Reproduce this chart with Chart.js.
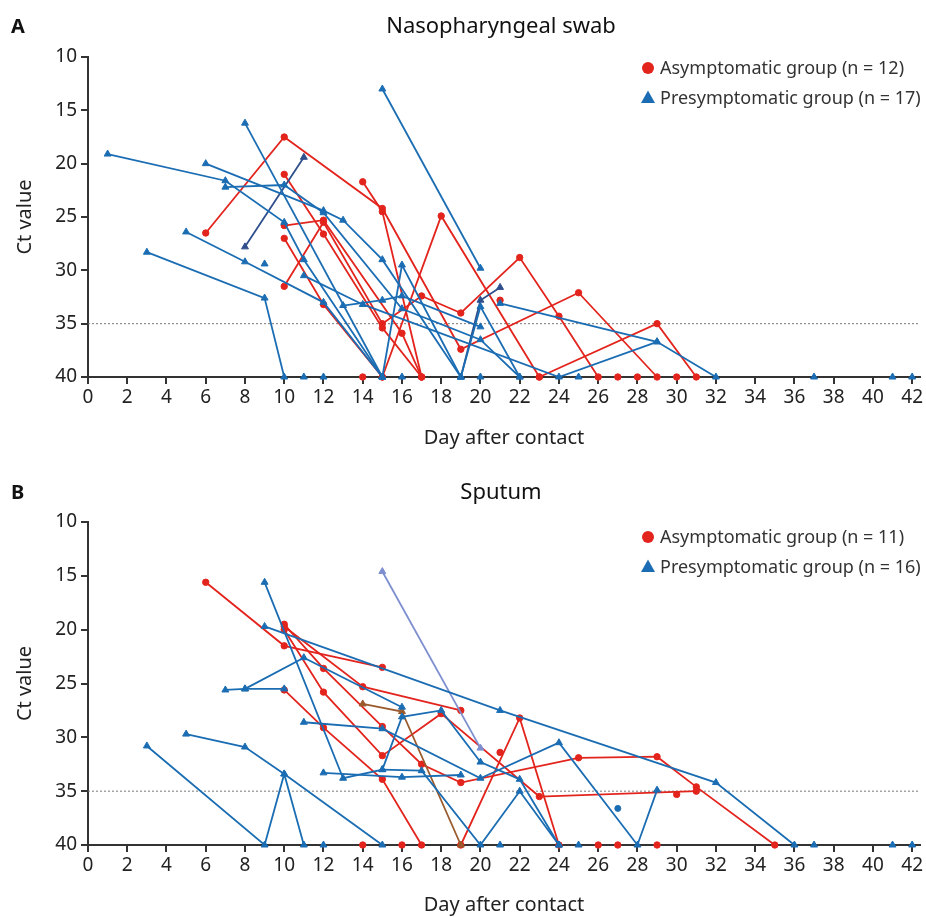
<!DOCTYPE html>
<html>
<head>
<meta charset="utf-8">
<script src="https://cdn.jsdelivr.net/npm/chart.js@4.4.0/dist/chart.umd.min.js"></script>
<style>
  html, body { margin: 0; padding: 0; background: #fff; overflow: hidden; }
  #wrapA { position: absolute; left: 0; top: 0; width: 926px; height: 460px; }
  #wrapB { position: absolute; left: 0; top: 465px; width: 926px; height: 452px; }
</style>
</head>
<body>
<div id="wrapA"><canvas id="chartA" width="926" height="460"></canvas></div>
<div id="wrapB"><canvas id="chartB" width="926" height="452"></canvas></div>
<script>
// axes
const xTicks = [0, 2, 4, 6, 8, 10, 12, 14, 16, 18, 20, 22, 24, 26, 28, 30, 32, 34, 36, 38, 40, 42];
const yTicks = [10, 15, 20, 25, 30, 35, 40];
const cutoff = 35;

// A - nasopharyngeal swab, each subject is a list of [day after contact, Ct]
const swabAsym = [
  [[6, 26.5], [10, 17.5], [15, 24.2], [19, 37.4], [25, 32.1], [29, 40]],
  [[14, 21.7], [15, 24.5], [17, 40]],
  [[10, 31.5], [12, 25.5], [15, 35], [17, 32.4], [19, 34], [22, 28.8], [24, 34.3], [26, 40]],
  [[10, 25.8], [12, 25.3], [16, 35.9], [17, 40]],
  [[10, 27], [12, 33.2], [15, 40]],
  [[10, 21], [12, 26.6], [15, 35.4], [17, 40]],
  [[15, 40], [18, 24.9], [23, 40]],
  [[21, 32.8]],
  [[23, 40], [29, 35], [31, 40]]
];
const swabAsymNeg = [14, 27, 28, 30];

const swabPre = [
  [[1, 19.1], [7, 21.6], [10, 25.5], [11, 29], [15, 40]],
  [[6, 20], [12, 24.4], [13, 25.3], [15, 29], [19, 40]],
  [[7, 22.2], [10, 22], [12, 24.6], [16, 33.6], [20, 36.5], [22, 40]],
  [[8, 16.2], [15, 40]],
  [[3, 28.3], [9, 32.6], [10, 40]],
  [[5, 26.4], [8, 29.2], [12, 33], [15, 40]],
  [[9, 29.4]],
  [[11, 30.5], [14, 33.2], [24, 40], [29, 36.7]],
  [[13, 33.3], [15, 32.8], [16, 32.4], [20, 35.3]],
  [[15, 13], [20, 29.8]],
  [[15, 40], [16, 29.5], [19, 40]],
  [[19, 40], [20, 33.4], [22, 40]],
  [[21, 33.1], [29, 36.7], [32, 40]]
];
const swabPreDark = [
  [[8, 27.8], [11, 19.4]],
  [[19, 40], [20, 32.8], [21, 31.6]]
];
const swabPreNeg = [11, 12, 16, 20, 25, 37, 41, 42];

// B - sputum
const sputAsym = [
  [[6, 15.6], [10, 21.5], [15, 23.5]],
  [[10, 19.7], [14, 25.3], [19, 27.5]],
  [[10, 19.5], [12, 23.6], [15, 29], [17, 32.5], [19, 34.2], [25, 31.9], [29, 31.8], [31, 34.6], [35, 40]],
  [[10, 20], [12, 25.8], [15, 31.7], [18, 27.8], [23, 35.5], [31, 35]],
  [[10, 25.6], [12, 29.1], [15, 33.9], [17, 40]],
  [[19, 40], [22, 28.2], [24, 40]],
  [[21, 31.4]],
  [[30, 35.3]]
];
const sputAsymNeg = [14, 16, 26, 27, 29];

const sputPre = [
  [[9, 15.6], [13, 33.8], [15, 33], [16, 28.1], [18, 27.5], [20, 32.3], [22, 33.9], [24, 40]],
  [[9, 19.7], [21, 27.5], [32, 34.2], [36, 40]],
  [[7, 25.6], [8, 25.5], [10, 25.5]],
  [[8, 25.5], [11, 22.6], [16, 27.2]],
  [[11, 28.6], [15, 29.2], [20, 33.8], [24, 30.5], [28, 40], [29, 34.9]],
  [[5, 29.7], [8, 30.9], [10, 33.4], [15, 40]],
  [[3, 30.8], [9, 40], [10, 33.4], [11, 40]],
  [[12, 33.3], [16, 33.7], [19, 33.5]],
  [[15, 33], [17, 33.1], [20, 40], [22, 35], [24, 40]]
];
const sputPreBrown = [[[14, 26.9], [16, 27.6], [19, 40]]];
const sputPreLight = [[[15, 14.6], [20, 31]]];
const sputPreDot = [[[27, 36.6]]];
const sputPreNeg = [12, 21, 25, 37, 41, 42];

const RED = '#e3241d';
const BLUE = '#1b6db3';
const DARK = '#2f4f8c';
const BROWN = '#9a5a2c';
const LIGHT = '#7e8fd0';
const FONT = '"Noto Sans", sans-serif';

function toSeries(list, color, style, r) {
  return list.map(s => ({
    data: s.map(p => ({ x: p[0], y: p[1] })),
    borderColor: color,
    backgroundColor: color,
    pointStyle: style,
    pointRadius: r,
    pointHoverRadius: r,
    pointBorderWidth: 1,
    borderWidth: 1.8,
    tension: 0,
    clip: false
  }));
}

function negDots(days, color, style, r) {
  return [{
    data: days.map(d => ({ x: d, y: 40 })),
    showLine: false,
    borderColor: color,
    backgroundColor: color,
    pointStyle: style,
    pointRadius: r,
    pointBorderWidth: 1,
    clip: false
  }];
}

// cut-off line, panel letter, title, legend
const decor = {
  id: 'decor',
  beforeDatasetsDraw(chart, args, o) {
    const { ctx, chartArea: a, scales: { y } } = chart;
    const py = y.getPixelForValue(cutoff);
    ctx.save();
    ctx.strokeStyle = '#7a7a7a';
    ctx.lineWidth = 1;
    ctx.setLineDash([2, 2]);
    ctx.beginPath();
    ctx.moveTo(a.left, py);
    ctx.lineTo(a.right, py);
    ctx.stroke();
    ctx.restore();
  },
  afterDraw(chart, args, o) {
    const { ctx, chartArea: a } = chart;
    ctx.save();
    ctx.textBaseline = 'middle';
    ctx.fillStyle = '#111';
    ctx.font = 'bold 20px ' + FONT;
    ctx.textAlign = 'left';
    ctx.fillText(o.letter, 11, o.titleY);
    ctx.font = '22px ' + FONT;
    ctx.textAlign = 'center';
    ctx.fillText(o.title, (a.left + a.right) / 2 - 3, o.titleY);

    ctx.font = '18px ' + FONT;
    ctx.textAlign = 'left';
    const mx = a.right - 272;
    o.legend.forEach((txt, i) => {
      const ly = a.top + o.legendTop + i * 29.5;
      if (i === 0) {
        ctx.fillStyle = RED;
        ctx.beginPath();
        ctx.arc(mx, ly, 6, 0, Math.PI * 2);
        ctx.fill();
      } else {
        ctx.fillStyle = BLUE;
        ctx.beginPath();
        ctx.moveTo(mx, ly - 7);
        ctx.lineTo(mx + 7, ly + 5.5);
        ctx.lineTo(mx - 7, ly + 5.5);
        ctx.closePath();
        ctx.fill();
      }
      ctx.fillStyle = '#333';
      ctx.fillText(txt, mx + 12, ly + 1);
    });
    ctx.restore();
  }
};

function makeChart(id, datasets, opt) {
  new Chart(document.getElementById(id), {
    type: 'line',
    data: { datasets: datasets },
    plugins: [decor],
    options: {
      responsive: false,
      animation: false,
      layout: { padding: { top: 57, right: 6, left: 0, bottom: 0 } },
      plugins: {
        legend: { display: false },
        tooltip: { enabled: false },
        decor: opt
      },
      scales: {
        x: {
          type: 'linear',
          min: 0,
          max: 42.4,
          afterBuildTicks: s => { s.ticks = xTicks.map(v => ({ value: v })); },
          afterFit: s => { s.height = opt.xHeight; },
          grid: { drawOnChartArea: false, drawTicks: true, tickLength: 7, color: '#333', lineWidth: 2 },
          border: { display: true, color: '#333', width: 2 },
          ticks: { font: { size: 19, family: FONT }, color: '#222', padding: 2, maxRotation: 0, autoSkip: false },
          title: { display: true, text: 'Day after contact', font: { size: 20, family: FONT }, color: '#222', padding: { top: 0, bottom: opt.xTitlePad } }
        },
        y: {
          type: 'linear',
          min: 10,
          max: 40,
          reverse: true,
          afterBuildTicks: s => { s.ticks = yTicks.map(v => ({ value: v })); },
          afterFit: s => { s.width = 88; },
          grid: { drawOnChartArea: false, drawTicks: true, tickLength: 7, color: '#333', lineWidth: 2 },
          border: { display: true, color: '#333', width: 2 },
          ticks: { font: { size: 19, family: FONT }, color: '#222', padding: 4 },
          title: { display: true, text: 'Ct value', font: { size: 20, family: FONT }, color: '#222', padding: { top: 13, bottom: 0 } }
        }
      }
    }
  });
}

makeChart('chartA', [
  ...toSeries(swabPre, BLUE, 'triangle', 4),
  ...toSeries(swabPreDark, DARK, 'triangle', 4),
  ...negDots(swabPreNeg, BLUE, 'triangle', 4),
  ...toSeries(swabAsym, RED, 'circle', 3.2),
  ...negDots(swabAsymNeg, RED, 'circle', 3.2)
], {
  letter: 'A', title: 'Nasopharyngeal swab', titleY: 27,
  legend: ['Asymptomatic group (n = 12)', 'Presymptomatic group (n = 17)'],
  legendTop: 11, xHeight: 83, xTitlePad: 10
});

makeChart('chartB', [
  ...toSeries(sputPre, BLUE, 'triangle', 4),
  ...toSeries(sputPreLight, LIGHT, 'triangle', 4),
  ...toSeries(sputPreBrown, BROWN, 'triangle', 4),
  ...toSeries(sputPreDot, BLUE, 'circle', 3),
  ...negDots(sputPreNeg, BLUE, 'triangle', 4),
  ...toSeries(sputAsym, RED, 'circle', 3.2),
  ...negDots(sputAsymNeg, RED, 'circle', 3.2)
], {
  letter: 'B', title: 'Sputum', titleY: 28,
  legend: ['Asymptomatic group (n = 11)', 'Presymptomatic group (n = 16)'],
  legendTop: 15, xHeight: 72, xTitlePad: 0
});
</script>
</body>
</html>
